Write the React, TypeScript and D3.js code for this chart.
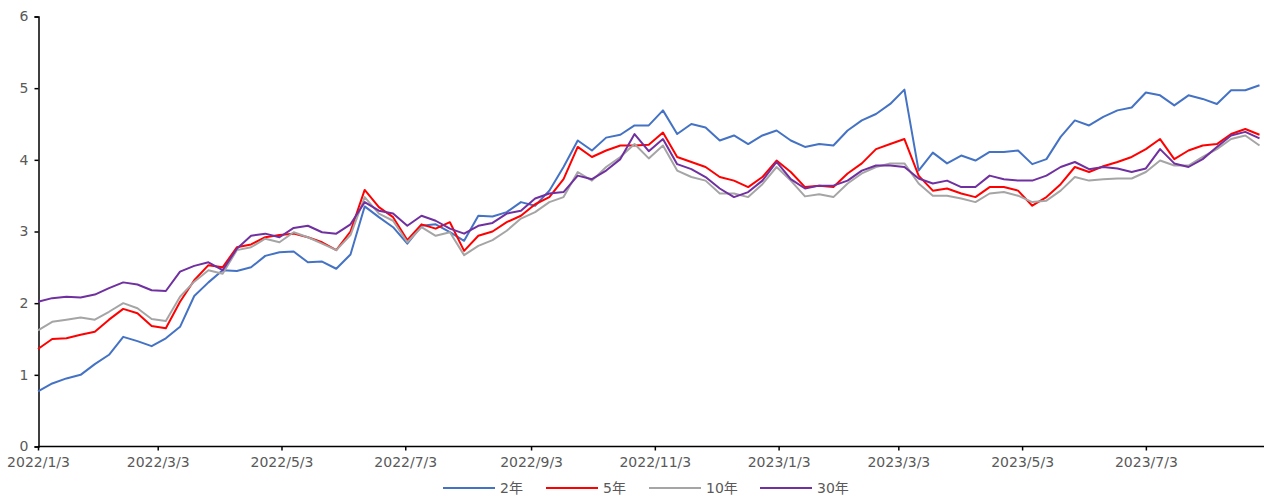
import React, { useRef, useEffect } from "react";
import * as d3 from "d3";

// weekly samples, first one on 2022/1/3
const startDate = new Date(2022, 0, 3);

const y2 = [
  0.77, 0.88, 0.95, 1.0, 1.15, 1.28, 1.53, 1.47, 1.4, 1.51, 1.67, 2.1,
  2.29, 2.46, 2.45, 2.5, 2.66, 2.71, 2.72, 2.57, 2.58, 2.48, 2.68,
  3.35, 3.2, 3.06, 2.83, 3.08, 3.1, 2.99, 2.87, 3.22, 3.21,
  3.27, 3.41, 3.36, 3.57, 3.9, 4.27, 4.13, 4.31, 4.35, 4.48, 4.48,
  4.69, 4.36, 4.5, 4.45, 4.27, 4.34, 4.22, 4.34, 4.41, 4.27, 4.18,
  4.22, 4.2, 4.41, 4.55, 4.64, 4.78, 4.98, 3.85, 4.1, 3.95,
  4.06, 3.99, 4.11, 4.11, 4.13, 3.94, 4.01, 4.32, 4.55, 4.48, 4.6,
  4.69, 4.73, 4.94, 4.9, 4.76, 4.9, 4.85, 4.78, 4.97, 4.97, 5.04,
];
const y5 = [
  1.36, 1.5, 1.51, 1.56, 1.6, 1.77, 1.92, 1.86, 1.68, 1.65, 2.02, 2.32,
  2.53, 2.5, 2.78, 2.82, 2.92, 2.95, 2.97, 2.92, 2.85, 2.74, 3.0,
  3.58, 3.34, 3.2, 2.88, 3.1, 3.04, 3.13, 2.73, 2.94, 3.0,
  3.13, 3.22, 3.38, 3.48, 3.73, 4.18, 4.04, 4.13, 4.2, 4.2, 4.21,
  4.38, 4.04, 3.97, 3.9, 3.76, 3.71, 3.62, 3.76, 3.99, 3.83, 3.62,
  3.64, 3.62, 3.81, 3.95, 4.15, 4.22, 4.29, 3.78, 3.57, 3.6,
  3.53, 3.48, 3.62, 3.62, 3.57, 3.36, 3.48, 3.66, 3.9, 3.83, 3.91,
  3.97, 4.04, 4.15, 4.29, 4.01, 4.13, 4.2, 4.22, 4.36, 4.43, 4.35,
];
const y10 = [
  1.62, 1.74, 1.77, 1.8, 1.77, 1.88, 2.0, 1.93, 1.78, 1.75, 2.09, 2.3,
  2.46, 2.41, 2.74, 2.78, 2.9, 2.85, 2.99, 2.92, 2.83, 2.74, 2.95,
  3.48, 3.25, 3.15, 2.85, 3.06, 2.94, 2.99, 2.67, 2.8, 2.88,
  3.01, 3.18, 3.27, 3.41, 3.48, 3.83, 3.71, 3.9, 4.04, 4.22, 4.02,
  4.2, 3.85, 3.76, 3.71, 3.53, 3.53, 3.48, 3.66, 3.9, 3.71, 3.49,
  3.52, 3.48, 3.67, 3.81, 3.9, 3.95, 3.95, 3.67, 3.5, 3.5,
  3.46, 3.41, 3.53, 3.55, 3.5, 3.41, 3.43, 3.57, 3.76, 3.71, 3.73,
  3.74, 3.74, 3.83, 3.99, 3.92, 3.92, 4.04, 4.15, 4.29, 4.34, 4.2,
];
const y30 = [
  2.02, 2.07, 2.09, 2.08, 2.12, 2.21, 2.29, 2.26, 2.18, 2.17, 2.44, 2.52,
  2.57, 2.46, 2.76, 2.94, 2.97, 2.92, 3.05, 3.08, 2.99, 2.97, 3.1,
  3.41, 3.29, 3.25, 3.08, 3.22, 3.15, 3.04, 2.97, 3.08, 3.12,
  3.25, 3.29, 3.46, 3.53, 3.55, 3.78, 3.73, 3.85, 4.01, 4.36, 4.12,
  4.29, 3.94, 3.87, 3.76, 3.6, 3.48, 3.55, 3.71, 3.97, 3.73, 3.6,
  3.64, 3.64, 3.71, 3.85, 3.92, 3.92, 3.9, 3.74, 3.67, 3.71,
  3.62, 3.62, 3.78, 3.73, 3.71, 3.71, 3.78, 3.9, 3.97, 3.87, 3.9,
  3.88, 3.83, 3.88, 4.15, 3.95, 3.9, 4.01, 4.18, 4.34, 4.39, 4.3,
];

const seriesNames = ["2年", "5年", "10年", "30年"];
const seriesColors = ["#4472C4", "#FF0000", "#A5A5A5", "#7030A0"];
const tickDates = [
  "2022/1/3", "2022/3/3", "2022/5/3", "2022/7/3", "2022/9/3",
  "2022/11/3", "2023/1/3", "2023/3/3", "2023/5/3", "2023/7/3",
];
const yTicks = [0, 1, 2, 3, 4, 5, 6];

const W = 1264;
const H = 496;
const FONT = "'DejaVu Sans', 'Noto Sans CJK SC', sans-serif";

const App: React.FC = () => {
  const svgRef = useRef<SVGSVGElement | null>(null);

  useEffect(() => {
    document.body.style.margin = "0";
    const svg = d3.select(svgRef.current);
    svg.selectAll("*").remove();

    const dates = y2.map((_, i) => d3.timeDay.offset(startDate, i * 7));
    const parse = d3.timeParse("%Y/%-m/%-d");

    const x = d3
      .scaleTime()
      .domain([startDate, dates[dates.length - 1]])
      .range([38, 1259.5]);
    const y = d3.scaleLinear().domain([0, 6]).range([446.5, 16.5]);

    // y axis
    const gy = svg
      .append("g")
      .attr("transform", "translate(38.5,0)")
      .call(d3.axisLeft(y).tickValues(yTicks).tickSize(4).tickFormat(d3.format("d")));
    gy.select(".domain").attr("stroke", "#000").attr("stroke-width", 1.5);
    gy.selectAll(".tick line").attr("stroke", "#000").attr("stroke-width", 1.5);
    gy.selectAll(".tick text")
      .attr("fill", "#595959")
      .attr("font-size", 14)
      .attr("font-family", FONT)
      .attr("x", -10);

    // x axis
    const gx = svg
      .append("g")
      .attr("transform", "translate(0,446.5)")
      .call(
        d3
          .axisBottom(x)
          .tickValues(tickDates.map((s) => parse(s)!))
          .tickSize(4)
          .tickSizeOuter(0)
          .tickFormat((d) => d3.timeFormat("%Y/%-m/%-d")(d as Date))
      );
    gx.select(".domain").attr("d", `M38,0H${W}`).attr("stroke", "#000").attr("stroke-width", 1.5);
    gx.selectAll(".tick line").attr("stroke", "#000").attr("stroke-width", 1.5);
    gx.selectAll(".tick text")
      .attr("fill", "#595959")
      .attr("font-size", 14)
      .attr("font-family", FONT)
      .attr("y", 11);

    const all = [y2, y5, y10, y30];
    const line = d3
      .line<number>()
      .x((_, i) => x(dates[i]))
      .y((d) => y(d));

    all.forEach((vals, k) => {
      svg
        .append("path")
        .datum(vals)
        .attr("fill", "none")
        .attr("stroke", seriesColors[k])
        .attr("stroke-width", 2)
        .attr("stroke-linejoin", "round")
        .attr("d", line);
    });

    // legend
    const legendX = [443, 546, 649, 760];
    const lg = svg.append("g").attr("transform", "translate(0,488)");
    seriesNames.forEach((name, k) => {
      lg.append("line")
        .attr("x1", legendX[k])
        .attr("x2", legendX[k] + 52)
        .attr("y1", 0)
        .attr("y2", 0)
        .attr("stroke", seriesColors[k])
        .attr("stroke-width", 2);
      lg.append("text")
        .attr("x", legendX[k] + 57)
        .attr("y", 0)
        .attr("dy", "0.35em")
        .attr("fill", "#595959")
        .attr("font-size", 14)
        .attr("font-family", FONT)
        .text(name);
    });
  }, []);

  return (
    <svg
      ref={svgRef}
      width={W}
      height={H}
      style={{ display: "block", position: "absolute", left: 0, top: 0, background: "#fff" }}
    />
  );
};

export default App;
